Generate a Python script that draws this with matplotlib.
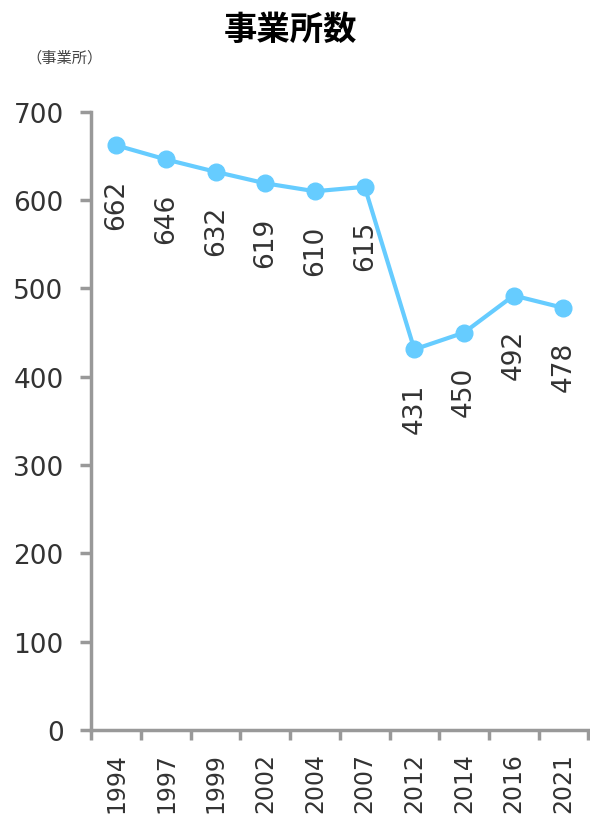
import matplotlib.pyplot as plt
import numpy as np

plt.rcParams['font.family'] = ['DejaVu Sans', 'Noto Sans CJK JP']

years = ['1994', '1997', '1999', '2002', '2004', '2007', '2012', '2014', '2016', '2021']
counts = [662, 646, 632, 619, 610, 615, 431, 450, 492, 478]

line_c = '#66CCFF'
axis_c = '#999999'
text_c = '#333333'

fig = plt.figure(figsize=(5.9, 8.29), dpi=100)
ax = fig.add_axes([0.155, 0.118, 0.842, 0.746])

x = np.arange(len(years))
ax.plot(x, counts, color=line_c, lw=3, marker='o', ms=12, zorder=3)

# value labels under each point, reading upward
for xi, v in zip(x, counts):
    ax.annotate(str(v), (xi, v), xytext=(0, -24), textcoords='offset points',
                rotation=90, ha='center', va='top', fontsize=19, color=text_c)

ax.set_xlim(-0.5, len(years) - 0.5)
ax.set_ylim(0, 700)
ax.set_yticks(range(0, 701, 100))
ax.set_xticks(x)
ax.set_xticklabels(years, rotation=90, fontsize=17, color=text_c)
ax.tick_params(axis='x', length=0, pad=16)
ax.set_xticks(np.arange(-0.5, len(years), 1), minor=True)
ax.tick_params(axis='x', which='minor', length=7, width=2.5, color=axis_c)
ax.tick_params(axis='y', labelsize=19, labelcolor=text_c, length=8, width=2.5,
               color=axis_c, pad=12)

for s in ['top', 'right']:
    ax.spines[s].set_visible(False)
for s in ['left', 'bottom']:
    ax.spines[s].set_color(axis_c)
    ax.spines[s].set_linewidth(2.5)

fig.text(0.493, 0.963, '事業所数', ha='center', va='center', fontsize=24,
         fontweight='bold', family=['Noto Sans CJK JP'])
fig.text(0.11, 0.93, '（事業所）', ha='center', va='center', fontsize=11,
         color='#444444', family=['Noto Sans CJK JP'])

fig.savefig('out.png', dpi=100)
